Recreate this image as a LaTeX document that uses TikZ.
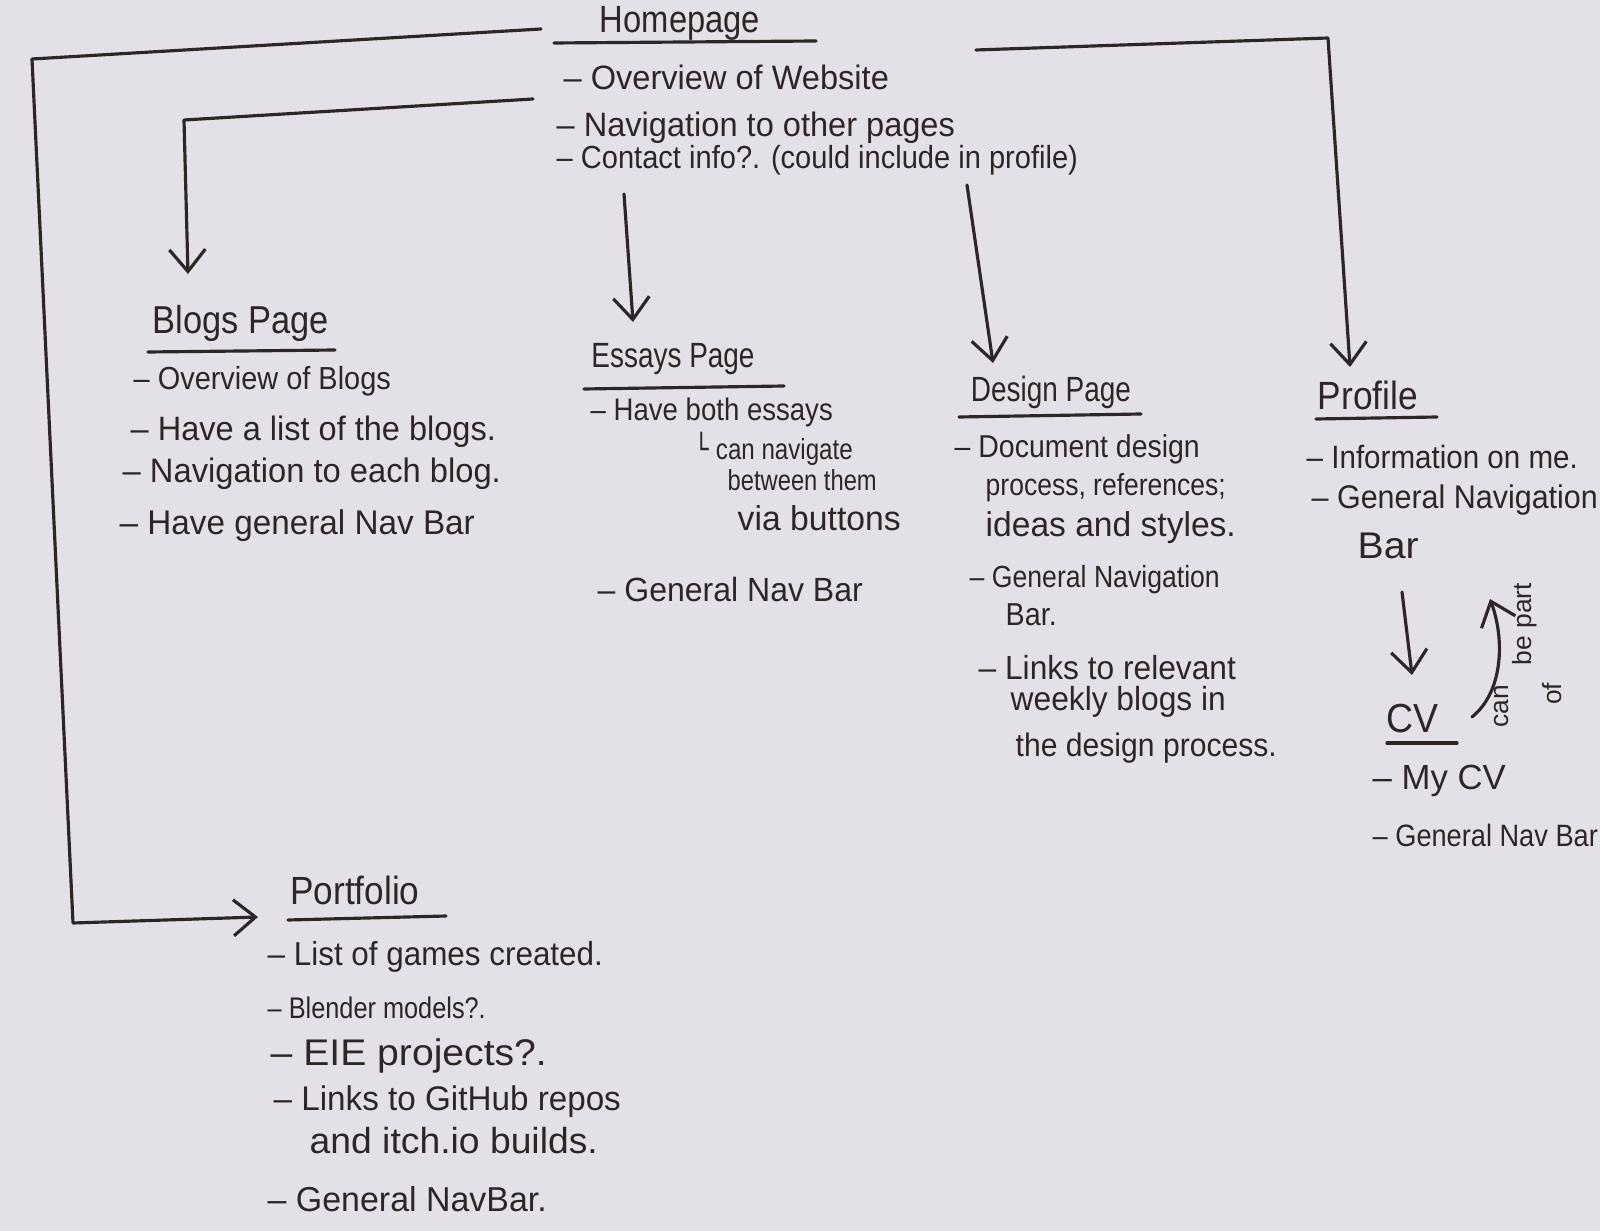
\documentclass[tikz,border=0pt]{standalone}
\usepackage{fontspec}
\usepackage{graphicx}
\setmainfont{Liberation Sans}
\newfontfamily\symfont{DejaVu Sans}
\usetikzlibrary{arrows.meta}
\definecolor{paper}{RGB}{228,224,232}
\definecolor{ink}{RGB}{46,38,38}
\newlength\fwlen
\newcommand\fw[2]{\settowidth\fwlen{#2}%
  \pgfmathsetmacro\fwr{#1*28.45274/\fwlen}%
  \pgfmathsetmacro\fwv{sqrt(\fwr)}%
  \scalebox{\fwr}[\fwv]{#2}}
\begin{document}
\begin{tikzpicture}[x=0.01cm,y=-0.01cm,
  inkline/.style={draw=ink,line width=0.9pt,line cap=round,line join=round},
  arr/.style={inkline,-{Straight Barb[length=2.2mm,width=3.6mm,line width=0.9pt]}},
  ttl/.style={text=ink,font=\fontsize{12.5}{14}\selectfont,inner sep=0pt},
  item/.style={text=ink,font=\fontsize{10}{12}\selectfont,anchor=west,inner sep=0pt},
  small/.style={text=ink,font=\fontsize{7.5}{9}\selectfont,inner sep=0pt},
]
\fill[paper] (0,0) rectangle (1600,1231);
\useasboundingbox (0,0) rectangle (1600,1231);

% ---------- Homepage
\node[ttl] (home) at (680,23) {\fw{1.60}{Homepage}};
\draw[inkline] (554,43) -- (816,41);
\node[item] (h1) at (563,77) {\fw{3.25}{– Overview of Website}};
\node[item] (h2) at (556,128) {\fw{3.98}{– Navigation to other pages}};
\node[item] (h3) at (556,160) {\fw{5.21}{– Contact info?. (could include in profile)}};

% ---------- Blogs Page
\node[ttl] (blogs) at (241,323) {\fw{1.76}{Blogs Page}};
\draw[inkline] (148,352) -- (335,350);
\node[item] (b1) at (133,381) {\fw{2.57}{– Overview of Blogs}};
\node[item] (b2) at (130,432) {\fw{3.65}{– Have a list of the blogs.}};
\node[item] (b3) at (122,474) {\fw{3.78}{– Navigation to each blog.}};
\node[item] (b4) at (119,526) {\fw{3.55}{– Have general Nav Bar}};

% ---------- Essays Page
\node[ttl] (essays) at (673,359) {\fw{1.63}{Essays Page}};
\draw[inkline] (584,389) -- (784,386);
\node[item] (e1) at (590,412) {\fw{2.42}{– Have both essays}};
\node[item] (e2) at (694,449) {\fw{1.58}{{\symfont └} can navigate}};
\node[item] (e3) at (727,480) {\fw{1.49}{between them}};
\node[item] (e4) at (737,518) {\fw{1.63}{via buttons}};
\node[item] (e5) at (597,590) {\fw{2.65}{– General Nav Bar}};

% ---------- Design Page
\node[ttl] (design) at (1051,392) {\fw{1.60}{Design Page}};
\draw[inkline] (959,417) -- (1141,414);
\node[item] (d1) at (954,449) {\fw{2.45}{– Document design}};
\node[item] (d2) at (985,488) {\fw{2.40}{process, references;}};
\node[item] (d3) at (985,528) {\fw{2.50}{ideas and styles.}};
\node[item] (d4) at (969,580) {\fw{2.50}{– General Navigation}};
\node[item] (d5) at (1005,615) {\fw{0.51}{Bar.}};
\node[item] (d6) at (978,668) {\fw{2.57}{– Links to relevant}};
\node[item] (d7) at (1010,702) {\fw{2.15}{weekly blogs in}};
\node[item] (d8) at (1015,748) {\fw{2.61}{the design process.}};

% ---------- Profile
\node[ttl] (profile) at (1368,395) {\fw{1.00}{Profile}};
\draw[inkline] (1316,419) -- (1437,417);
\node[item] (p1) at (1306,457) {\fw{2.71}{– Information on me.}};
\node[item] (p2) at (1311,500) {\fw{2.86}{– General Navigation}};
\node[item] (p3) at (1357,546) {\fw{0.61}{Bar}};

% ---------- CV
\node[ttl] (cv) at (1412,719) {\fw{0.52}{CV}};
\draw[inkline] (1387,743) -- (1457,743);
\node[item] (c1) at (1372,781) {\fw{1.33}{– My CV}};
\node[item] (c2) at (1372,835) {\fw{2.25}{– General Nav Bar}};
\node[small,rotate=90] (can) at (1502,706) {can};
\node[small,rotate=90] (bepart) at (1525,624) {be part};
\node[small,rotate=90] (of) at (1552,694) {of};

% ---------- Portfolio
\node[ttl] (portfolio) at (355,890) {\fw{1.29}{Portfolio}};
\draw[inkline] (288,920) -- (446,916);
\node[item] (f1) at (267,957) {\fw{3.35}{– List of games created.}};
\node[item] (f2) at (267,1008) {\fw{2.18}{– Blender models?.}};
\node[item] (f3) at (270,1056) {\fw{2.76}{– EIE projects?.}};
\node[item] (f4) at (273,1102) {\fw{3.47}{– Links to GitHub repos}};
\node[item] (f5) at (309,1141) {\fw{2.88}{and itch.io builds.}};
\node[item] (f6) at (267,1199) {\fw{2.79}{– General NavBar.}};

% ---------- connector points
\coordinate (sPort) at (541,29);
\coordinate (kPort1) at (32,59);
\coordinate (kPort2) at (73,923);
\coordinate (ePort) at (258,917);
\coordinate (sBlog) at (533,99);
\coordinate (kBlog) at (184,120);
\coordinate (eBlog) at (188,274);
\coordinate (sEss) at (624,194);
\coordinate (eEss) at (633,322);
\coordinate (sDes) at (967,185);
\coordinate (eDes) at (993,363);
\coordinate (sProf) at (976,50);
\coordinate (kProf) at (1328,38);
\coordinate (eProf) at (1350,367);
\coordinate (sCV) at (1402,592);
\coordinate (eCV) at (1412,675);
\coordinate (sUp) at (1472,717);
\coordinate (eUp) at (1490,599);

% ---------- connectors
\draw[arr] (sPort) -- (kPort1) -- (kPort2) -- (ePort);
\draw[arr] (sBlog) -- (kBlog) -- (eBlog);
\draw[arr] (sEss) -- (eEss);
\draw[arr] (sDes) -- (eDes);
\draw[arr] (sProf) -- (kProf) -- (eProf);
\draw[arr] (sCV) -- (eCV);
\draw[arr] (sUp) .. controls (1503,692) and (1505,640) .. (eUp);
\end{tikzpicture}
\end{document}
